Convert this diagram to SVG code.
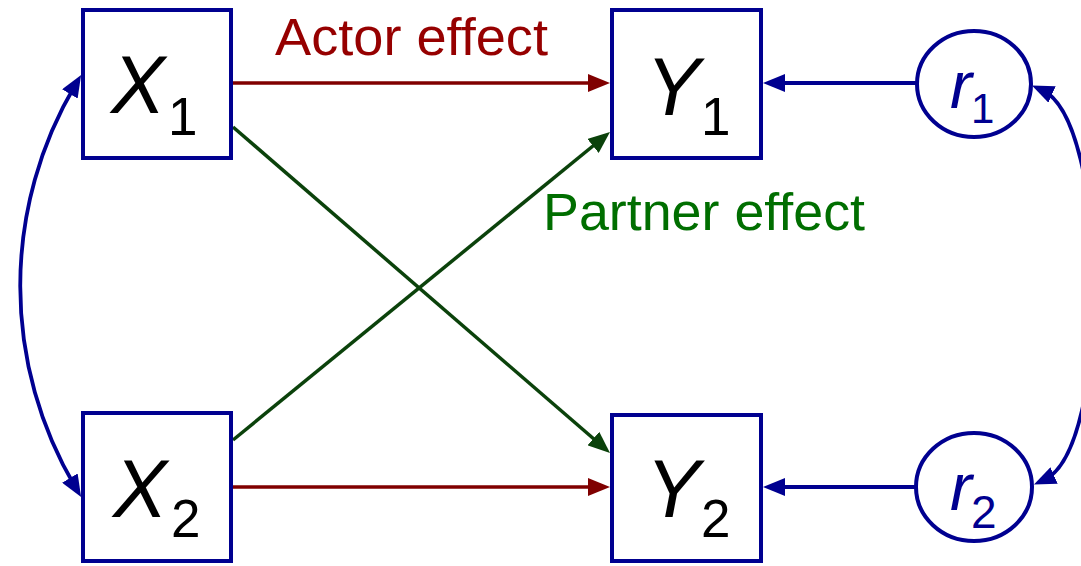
<svg xmlns="http://www.w3.org/2000/svg" width="1081" height="566" viewBox="0 0 1081 566">
  <style>
    .box { fill: #ffffff; stroke: #000090; stroke-width: 4; }
    .circ { fill: #ffffff; stroke: #000090; stroke-width: 4; }
    .var { font-family: "Liberation Sans", Arial, sans-serif; fill: #000000; }
    .it { font-style: italic; font-size: 81px; }
    .sub { font-style: normal; font-size: 53px; }
    .rvar { font-family: "Liberation Sans", Arial, sans-serif; fill: #000090; }
    .lab { font-family: "Liberation Sans", Arial, sans-serif; font-size: 51px; }
    .red { stroke: #800000; stroke-width: 3.5; fill: none; }
    .green { stroke: #0b420b; stroke-width: 3.5; fill: none; }
    .blue { stroke: #000090; stroke-width: 3.8; fill: none; }
  </style>
  <defs>
    <marker id="ahRed" viewBox="0 0 22 18" refX="11" refY="9" markerWidth="22" markerHeight="18" markerUnits="userSpaceOnUse" orient="auto-start-reverse">
      <path d="M0,0 L22,9 L0,18 z" fill="#800000"/>
    </marker>
    <marker id="ahGreen" viewBox="0 0 22 18" refX="11" refY="9" markerWidth="22" markerHeight="18" markerUnits="userSpaceOnUse" orient="auto-start-reverse">
      <path d="M0,0 L22,9 L0,18 z" fill="#0b420b"/>
    </marker>
    <marker id="ahBlue" viewBox="0 0 22 18" refX="11" refY="9" markerWidth="22" markerHeight="18" markerUnits="userSpaceOnUse" orient="auto-start-reverse">
      <path d="M0,0 L22,9 L0,18 z" fill="#000090"/>
    </marker>
  </defs>

  <g id="connectors">
    <!-- actor effects -->
    <line class="red" x1="233" y1="83" x2="599" y2="83" marker-end="url(#ahRed)"/>
    <line class="red" x1="233" y1="487" x2="599" y2="487" marker-end="url(#ahRed)"/>
    <!-- partner effects -->
    <line class="green" x1="233" y1="127" x2="601.7" y2="445.8" marker-end="url(#ahGreen)"/>
    <line class="green" x1="233" y1="440" x2="601.5" y2="139" marker-end="url(#ahGreen)"/>
    <!-- residuals -->
    <line class="blue" x1="916" y1="83" x2="774" y2="83" marker-end="url(#ahBlue)"/>
    <line class="blue" x1="916" y1="487" x2="774" y2="487" marker-end="url(#ahBlue)"/>
    <!-- covariances -->
    <path class="blue" d="M75.5,84.5 A395,395 0 0 0 75.5,487.5" marker-start="url(#ahBlue)" marker-end="url(#ahBlue)"/>
    <path class="blue" d="M1042,90 C1110,120 1112,450 1044,480" marker-start="url(#ahBlue)" marker-end="url(#ahBlue)"/>
  </g>

  <g id="label-actor">
    <text class="lab" x="275" y="55" fill="#960000" textLength="273" lengthAdjust="spacingAndGlyphs">Actor effect</text>
  </g>
  <g id="label-partner">
    <text class="lab" x="543" y="230" fill="#006e00" textLength="322" lengthAdjust="spacingAndGlyphs">Partner effect</text>
  </g>

  <g id="node-X1">
    <rect class="box" x="83" y="10" width="148" height="148"/>
    <text class="var" x="111" y="113"><tspan class="it">X</tspan><tspan class="sub" x="168" y="135">1</tspan></text>
  </g>
  <g id="node-X2">
    <rect class="box" x="83" y="413" width="148" height="148"/>
    <text class="var" x="113" y="517"><tspan class="it">X</tspan><tspan class="sub" x="171" y="537">2</tspan></text>
  </g>
  <g id="node-Y1">
    <rect class="box" x="612" y="10" width="149" height="148"/>
    <text class="var" x="646" y="115"><tspan class="it">Y</tspan><tspan class="sub" x="701" y="135">1</tspan></text>
  </g>
  <g id="node-Y2">
    <rect class="box" x="612" y="415" width="149" height="146"/>
    <text class="var" x="646" y="517"><tspan class="it">Y</tspan><tspan class="sub" x="701" y="537">2</tspan></text>
  </g>
  <g id="node-r1">
    <ellipse class="circ" cx="974" cy="84" rx="57" ry="53"/>
    <text class="rvar" x="950" y="108" font-size="66" font-style="italic">r<tspan x="971" y="123" font-size="42" font-style="normal">1</tspan></text>
  </g>
  <g id="node-r2">
    <ellipse class="circ" cx="974" cy="487" rx="58" ry="54"/>
    <text class="rvar" x="950" y="510" font-size="66" font-style="italic">r<tspan x="971" y="528" font-size="46" font-style="normal">2</tspan></text>
  </g>
</svg>
